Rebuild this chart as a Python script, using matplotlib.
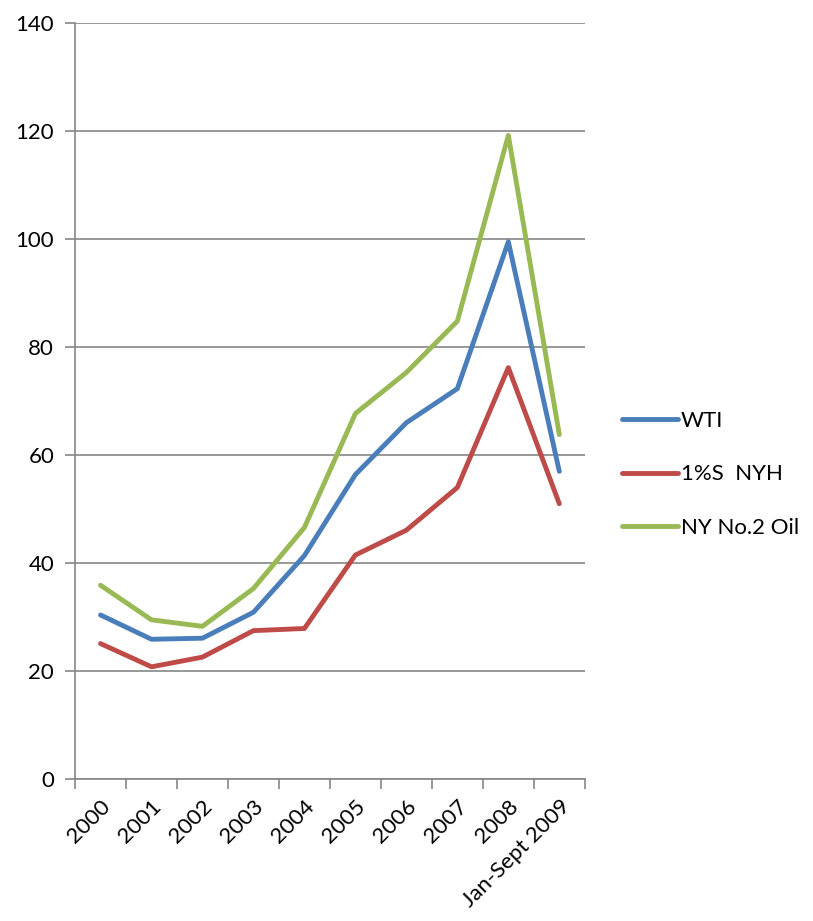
import matplotlib
matplotlib.use("Agg")
import matplotlib.pyplot as plt
import numpy as np

# data
years = ["2000", "2001", "2002", "2003", "2004", "2005", "2006", "2007", "2008", "Jan-Sept 2009"]
wti = [30.4, 25.9, 26.1, 30.9, 41.4, 56.4, 66.0, 72.3, 99.5, 57.0]
nyh_1s = [25.1, 20.8, 22.6, 27.5, 27.9, 41.5, 46.1, 54.0, 76.2, 51.0]
ny_no2 = [35.9, 29.5, 28.3, 35.3, 46.6, 67.7, 75.3, 84.8, 119.2, 63.8]

plt.rcParams['font.family'] = ['Lato', 'DejaVu Sans']

fig = plt.figure(figsize=(8.13, 9.21), dpi=100)
ax = fig.add_axes([0.0923, 0.154, 0.627, 0.821])

x = np.arange(len(years))
ax.plot(x, wti, color="#4A7EBB", lw=3.5, label="WTI", solid_capstyle="round")
ax.plot(x, nyh_1s, color="#BE4B48", lw=3.5, label="1%S  NYH", solid_capstyle="round")
ax.plot(x, ny_no2, color="#98B954", lw=3.5, label="NY No.2 Oil", solid_capstyle="round")

ax.set_xlim(-0.5, len(years) - 0.5)
ax.set_ylim(0, 140)
ax.set_yticks(range(0, 141, 20))
ax.yaxis.grid(True, color="#868686", lw=1.2)
ax.set_axisbelow(True)

for s in ["top", "right"]:
    ax.spines[s].set_visible(False)
for s in ["left", "bottom"]:
    ax.spines[s].set_color("#868686")
    ax.spines[s].set_linewidth(1.2)

ax.set_xticks(x)
ax.set_xticklabels(years, rotation=45, ha="right", rotation_mode="anchor", fontsize=16)
ax.tick_params(axis="x", length=0, pad=12)
ax.set_xticks(np.arange(-0.5, len(years), 1), minor=True)
ax.tick_params(axis="x", which="minor", length=7, color="#868686", width=1.2)
ax.tick_params(axis="y", labelsize=16, length=7, color="#868686", width=1.2, pad=8)

ax.legend(loc="center left", bbox_to_anchor=(0.765, 0.485), bbox_transform=fig.transFigure,
          frameon=False, fontsize=16, handlelength=2.5, labelspacing=1.5, handletextpad=0.15,
          borderpad=0, borderaxespad=0)

fig.savefig("out.png", dpi=100)
